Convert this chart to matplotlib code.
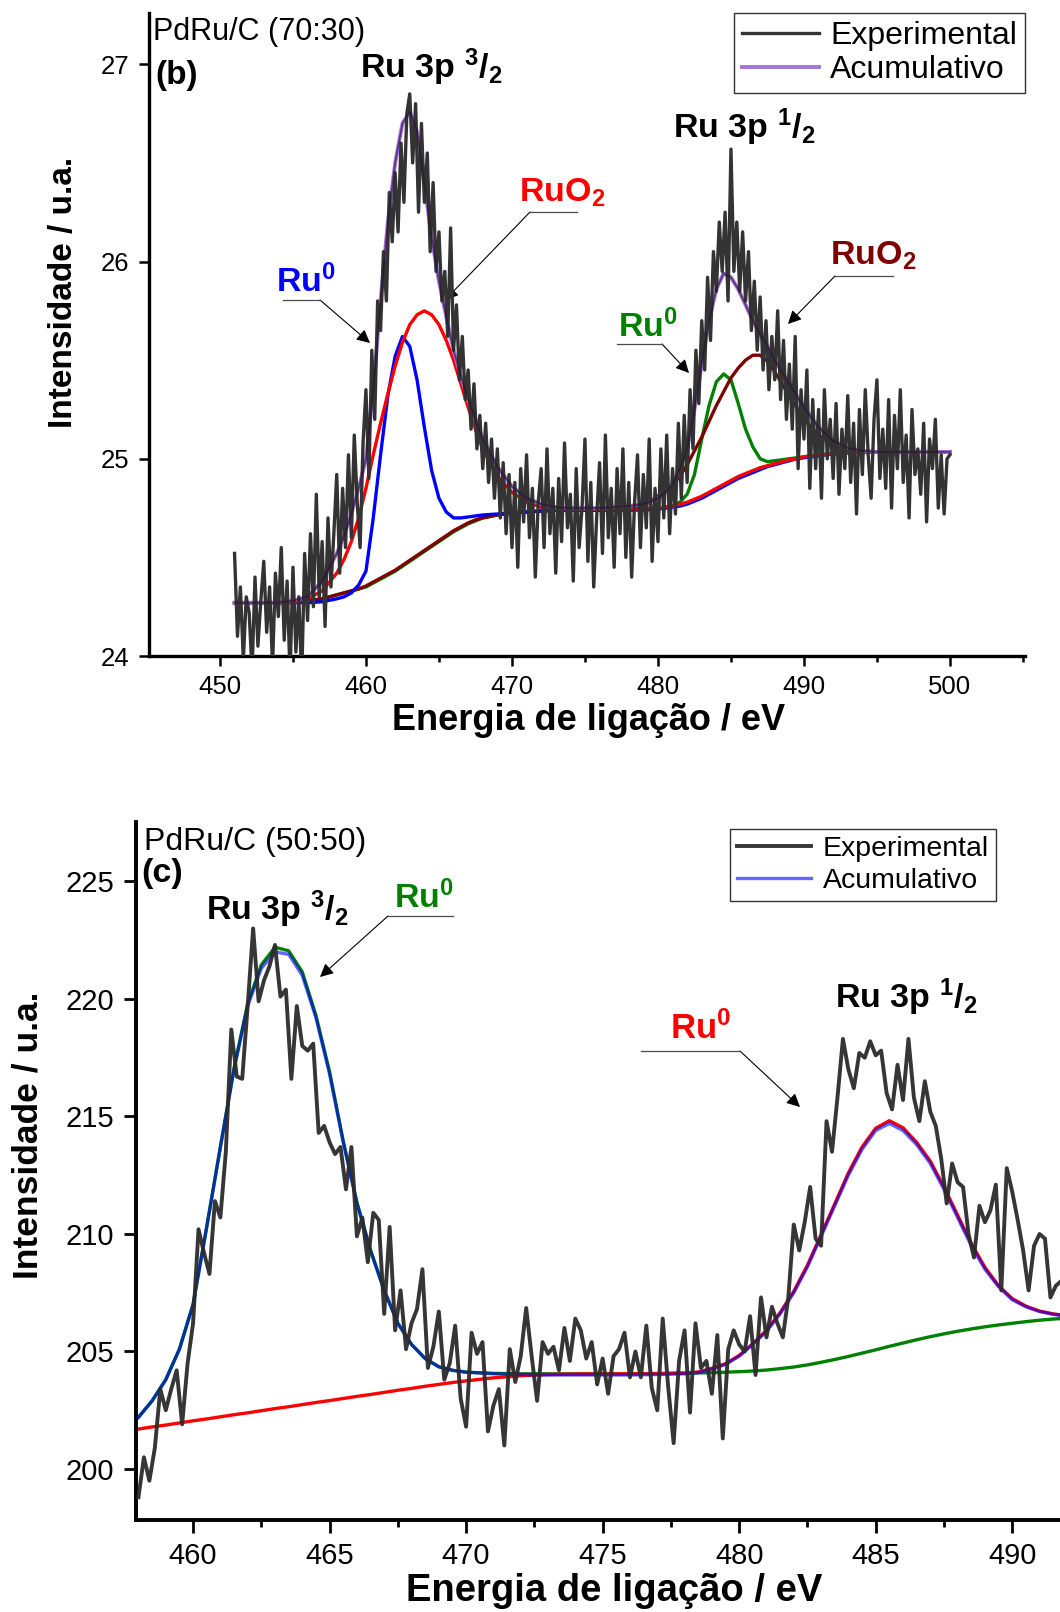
import numpy as np
import matplotlib
matplotlib.use("Agg")
import matplotlib.pyplot as plt
from matplotlib.ticker import MultipleLocator

plt.rcParams['font.family'] = ['Liberation Sans', 'DejaVu Sans']
plt.rcParams['mathtext.fontset'] = 'custom'
plt.rcParams['mathtext.rm'] = 'Liberation Sans:bold'
plt.rcParams['mathtext.it'] = 'Liberation Sans:bold'
plt.rcParams['mathtext.bf'] = 'Liberation Sans:bold'
plt.rcParams['mathtext.default'] = 'rm'

# ---------------- panel (b) PdRu/C 70:30 ----------------
exp_b_start, exp_b_step = 451.0, 0.2
exp_b = [
    24.52, 24.10, 24.35, 23.98, 24.30,  # 451
    24.22, 23.92, 24.40, 24.05, 24.28,
    24.48, 24.12, 24.35, 23.95, 24.42,
    24.20, 24.55, 24.08, 24.38, 23.90,
    24.45, 24.02, 24.30, 23.88, 24.52,  # 455
    24.18, 24.62, 24.25, 24.82, 24.30,
    24.58, 24.15, 24.70, 24.35, 24.62,
    24.92, 24.42, 24.85, 24.55, 25.02,
    24.60, 25.12, 24.78, 24.55, 25.08,
    25.35, 24.90, 25.55, 25.20, 25.80,  # 460
    25.65, 26.05, 25.80, 26.35, 26.10,
    26.45, 26.15, 26.60, 26.30, 26.75,
    26.85, 26.50, 26.80, 26.25, 26.70,
    26.30, 26.55, 26.05, 26.40, 25.95,
    26.15, 25.80, 25.95, 25.62, 26.17,  # 465
    25.55, 25.78, 25.40, 25.62, 25.30,
    25.45, 25.15, 25.38, 25.05, 25.22,
    24.95, 25.18, 24.88, 25.10, 24.80,
    25.05, 24.70, 24.98, 24.62, 24.92,
    24.55, 24.88, 24.45, 24.95, 24.68,  # 470
    25.02, 24.60, 24.85, 24.40, 24.78,
    24.95, 24.55, 25.05, 24.62, 24.85,
    24.42, 24.90, 24.58, 25.08, 24.65,
    24.82, 24.38, 24.95, 24.55, 24.75,
    25.10, 24.48, 24.88, 24.35, 24.70,  # 475
    24.98, 24.52, 25.12, 24.60, 24.85,
    24.45, 24.95, 24.62, 25.05, 24.50,
    24.88, 24.40, 24.78, 25.02, 24.55,
    24.92, 24.65, 25.10, 24.48, 24.85,
    24.58, 25.05, 24.70, 25.12, 24.62,  # 480
    24.95, 24.72, 25.18, 24.80, 25.22,
    24.88, 25.35, 25.05, 25.55, 25.28,
    25.70, 25.45, 25.92, 25.60, 26.05,
    25.85, 26.20, 25.95, 26.25, 25.80,
    26.57, 25.95, 26.20, 25.85, 26.15,  # 485
    25.80, 26.05, 25.65, 25.90, 25.55,
    25.82, 25.45, 25.70, 25.35, 25.62,
    25.40, 25.75, 25.30, 25.60, 25.20,
    25.48, 25.15, 25.62, 24.95, 25.35,
    25.10, 25.45, 24.85, 25.30, 24.95,  # 490
    25.25, 24.80, 25.35, 25.00, 25.20,
    24.90, 25.28, 24.82, 25.15, 24.95,
    25.32, 24.88, 25.18, 24.72, 25.25,
    24.92, 25.35, 25.02, 24.80, 25.20,
    25.40, 24.90, 25.15, 24.85, 25.30,  # 495
    24.75, 25.22, 24.95, 25.35, 24.88,
    25.12, 24.70, 25.25, 24.92, 25.05,
    24.82, 25.18, 24.68, 25.10, 24.95,
    25.20, 24.75, 25.02, 24.72, 25.00,
    25.02,  # 500
]

fit_x_b = [451, 452, 453, 454, 455, 456, 457, 458,
           458.5, 459, 459.5, 460, 460.5, 461, 461.5, 462, 462.5, 463,
           463.5, 464, 464.5, 465, 465.5, 466, 466.5, 467, 467.5, 468,
           469, 470, 471, 472, 473, 474, 475, 476, 477, 478, 479, 480,
           480.5, 481, 481.5, 482, 482.5, 483, 483.5, 484, 484.5, 485,
           485.5, 486, 486.5, 487, 487.5, 488, 488.5, 489, 489.5, 490,
           491, 492, 493, 494, 495, 496, 497, 498, 499, 500]

ru0_32_b = [24.27, 24.27, 24.27, 24.27, 24.27, 24.27, 24.275, 24.29,
            24.30, 24.32, 24.36, 24.43, 24.70, 25.02, 25.32, 25.52, 25.62, 25.57,
            25.40, 25.16, 24.94, 24.80, 24.73, 24.70, 24.70, 24.705, 24.71, 24.715,
            24.72, 24.725, 24.73, 24.735, 24.74, 24.74, 24.74, 24.74, 24.74, 24.74, 24.74, 24.745,
            24.75, 24.755, 24.76, 24.77, 24.785, 24.80, 24.82, 24.84, 24.86, 24.88,
            24.90, 24.915, 24.93, 24.945, 24.96, 24.97, 24.98, 24.99, 25.0, 25.005,
            25.015, 25.025, 25.03, 25.035, 25.035, 25.035, 25.035, 25.035, 25.035, 25.035]

ruo2_32_b = [24.27, 24.27, 24.27, 24.27, 24.27, 24.29, 24.33, 24.42,
             24.49, 24.58, 24.70, 24.85, 25.02, 25.18, 25.33, 25.47, 25.59, 25.68,
             25.73, 25.75, 25.73, 25.68, 25.60, 25.50, 25.38, 25.26, 25.15, 25.05,
             24.91, 24.83, 24.78, 24.755, 24.745, 24.745, 24.745, 24.745, 24.745, 24.745, 24.745, 24.75,
             24.755, 24.76, 24.77, 24.78, 24.795, 24.81, 24.83, 24.85, 24.87, 24.89,
             24.91, 24.925, 24.94, 24.955, 24.965, 24.975, 24.985, 24.995, 25.0, 25.01,
             25.02, 25.025, 25.03, 25.035, 25.035, 25.035, 25.035, 25.035, 25.035, 25.035]

ru0_12_b = [24.27, 24.27, 24.27, 24.27, 24.275, 24.28, 24.29, 24.31,
            24.32, 24.33, 24.34, 24.35, 24.37, 24.39, 24.41, 24.43, 24.455, 24.48,
            24.505, 24.53, 24.555, 24.58, 24.605, 24.63, 24.65, 24.67, 24.685, 24.70,
            24.715, 24.725, 24.73, 24.735, 24.74, 24.74, 24.74, 24.74, 24.74, 24.74, 24.745, 24.75,
            24.75, 24.76, 24.78, 24.82, 24.92, 25.10, 25.27, 25.39, 25.43, 25.40,
            25.28, 25.15, 25.06, 25.0, 24.985, 24.99, 24.995, 25.0, 25.005, 25.01,
            25.02, 25.025, 25.03, 25.035, 25.035, 25.035, 25.035, 25.035, 25.035, 25.035]

ruo2_12_b = [24.27, 24.27, 24.27, 24.27, 24.275, 24.28, 24.29, 24.31,
             24.32, 24.33, 24.34, 24.355, 24.375, 24.395, 24.415, 24.435, 24.46, 24.485,
             24.51, 24.535, 24.56, 24.585, 24.61, 24.635, 24.655, 24.675, 24.69, 24.70,
             24.715, 24.725, 24.73, 24.735, 24.74, 24.74, 24.74, 24.74, 24.745, 24.75, 24.765, 24.81,
             24.84, 24.87, 24.91, 24.97, 25.04, 25.11, 25.19, 25.27, 25.34, 25.41,
             25.46, 25.50, 25.525, 25.525, 25.495, 25.44, 25.38, 25.32, 25.26, 25.20,
             25.12, 25.07, 25.045, 25.037, 25.035, 25.035, 25.035, 25.035, 25.035, 25.035]

cumul_b = [24.27, 24.27, 24.27, 24.27, 24.28, 24.30, 24.38, 24.52,
           24.61, 24.72, 24.85, 25.0, 25.35, 25.8, 26.2, 26.5, 26.7, 26.76,
           26.66, 26.4, 26.12, 25.9, 25.72, 25.55, 25.42, 25.3, 25.2, 25.1,
           24.96, 24.86, 24.8, 24.77, 24.755, 24.75, 24.75, 24.75, 24.755, 24.76, 24.77, 24.8,
           24.83, 24.87, 24.95, 25.05, 25.25, 25.48, 25.7, 25.86, 25.94, 25.92,
           25.86, 25.78, 25.7, 25.63, 25.57, 25.5, 25.44, 25.38, 25.32, 25.26,
           25.16, 25.09, 25.055, 25.04, 25.035, 25.035, 25.035, 25.035, 25.035, 25.035]

# ---------------- panel (c) PdRu/C 50:50 ----------------
exp_c_start, exp_c_step = 458.0, 0.2
exp_c = [
    198.8, 200.5, 199.5, 200.9, 203.4,  # 458
    202.5, 203.4, 204.2, 201.9, 204.5,
    206.2, 210.2, 209.2, 208.3, 211.4,  # 460
    210.7, 213.5, 218.7, 216.7, 216.6,
    219.7, 223.0, 219.9, 220.8, 221.4,
    222.3, 220.1, 220.4, 216.6, 219.7,
    218.0, 217.8, 218.1, 214.3, 214.6,
    213.9, 213.4, 213.7, 211.9, 213.7,  # 465
    209.9, 210.7, 208.8, 210.9, 210.6,
    206.6, 210.3, 205.9, 207.6, 205.1,
    206.2, 206.8, 208.5, 204.3, 205.2,
    206.7, 203.8, 204.5, 206.1, 203.0,
    201.8, 205.8, 204.9, 205.4, 201.6,  # 470
    202.7, 203.4, 201.0, 205.1, 203.7,
    204.8, 206.85, 204.8, 202.9, 205.4,
    204.9, 205.2, 204.2, 206.0, 204.6,
    206.4, 205.9, 204.7, 205.4, 203.6,
    204.7, 203.2, 204.8, 205.1, 205.8,  # 475
    203.9, 205.0, 203.9, 206.1, 203.45,
    202.5, 206.4, 203.5, 201.1, 204.6,
    205.9, 202.4, 206.2, 204.3, 204.6,
    203.2, 205.7, 201.3, 205.1, 205.9,
    205.3, 205.0, 206.5, 204.0, 207.3,  # 480
    205.6, 206.9, 206.2, 205.6, 207.3,
    210.4, 209.3, 210.5, 212.0, 209.8,
    209.5, 214.8, 213.5, 215.8, 218.3,
    217.0, 216.2, 217.7, 217.5, 218.2,
    217.6, 217.8, 216.0, 215.3, 217.2,  # 485
    215.7, 218.3, 215.8, 214.8, 216.5,
    215.2, 214.6, 213.2, 211.3, 213.0,
    212.2, 212.0, 210.0, 209.0, 211.2,
    210.5, 211.0, 212.1, 207.6, 212.8,
    211.8, 210.6, 209.3, 207.6, 209.5,  # 490
    210.0, 209.8, 207.3, 207.8, 208.0,
    208.2,
]

fit_x_c = [458, 458.5, 459, 459.5, 460, 460.5, 461, 461.5, 462, 462.5,
           463, 463.5, 464, 464.5, 465, 465.5, 466, 466.5, 467, 467.5,
           468, 468.5, 469, 469.5, 470,
           471, 472, 473, 474, 475, 476, 477,
           477.5, 478, 478.5, 479, 479.5, 480, 480.5, 481, 481.5, 482,
           482.5, 483, 483.5, 484, 484.5, 485, 485.5, 486, 486.5, 487,
           487.5, 488, 488.5, 489, 489.5, 490, 490.5, 491, 491.5, 492]

cumul_c = [202.2, 202.9, 203.8, 205.1, 207.0, 210.3, 213.7, 217.0, 219.7, 221.3,
           222.0, 221.9, 221.0, 219.2, 216.8, 213.9, 211.3, 209.3, 207.6, 206.2,
           205.3, 204.7, 204.35, 204.2, 204.12,
           204.05, 204.02, 204.0, 204.0, 204.0, 204.0, 204.02,
           204.03, 204.05, 204.1, 204.25, 204.45, 204.8, 205.3, 205.85, 206.6, 207.5,
           208.6, 209.9, 211.2, 212.5, 213.6, 214.4, 214.7, 214.4, 213.8, 213.0,
           211.9, 210.7, 209.5, 208.5, 207.75, 207.2, 206.9, 206.7, 206.58, 206.5]

ru0_12_c = [201.70, 201.79, 201.87, 201.96, 202.05, 202.13, 202.22, 202.31, 202.39, 202.48,
            202.57, 202.65, 202.74, 202.83, 202.91, 203.0, 203.09, 203.17, 203.26, 203.35,
            203.43, 203.52, 203.6, 203.68, 203.75,
            203.88, 203.97, 204.02, 204.04, 204.05, 204.05, 204.06,
            204.07, 204.08, 204.13, 204.28, 204.48, 204.83, 205.33, 205.9, 206.65, 207.56,
            208.67, 209.97, 211.28, 212.6, 213.7, 214.5, 214.82, 214.52, 213.9, 213.1,
            212.0, 210.8, 209.6, 208.58, 207.8, 207.25, 206.93, 206.72, 206.6, 206.52]

ru0_32_c = [202.2, 202.9, 203.8, 205.1, 207.0, 210.3, 213.7, 217.05, 219.8, 221.45,
            222.2, 222.05, 221.15, 219.3, 216.9, 213.95, 211.35, 209.3, 207.6, 206.2,
            205.3, 204.7, 204.35, 204.2, 204.12,
            204.07, 204.05, 204.05, 204.05, 204.05, 204.05, 204.06,
            204.07, 204.08, 204.09, 204.1, 204.12, 204.14, 204.17, 204.21, 204.27, 204.34,
            204.43, 204.54, 204.66, 204.79, 204.93, 205.07, 205.22, 205.36, 205.5, 205.63,
            205.75, 205.86, 205.96, 206.05, 206.13, 206.2, 206.27, 206.33, 206.38, 206.42]

W, H = 1060, 1612


def px(x, y):
    return x / W, 1 - y / H


def style_axes(ax, spine_w, tick_w, maj_len, min_len, lsize, pad):
    for s in ['top', 'right']:
        ax.spines[s].set_visible(False)
    for s in ['left', 'bottom']:
        ax.spines[s].set_linewidth(spine_w)
    ax.tick_params(which='major', direction='out', length=maj_len, width=tick_w,
                   labelsize=lsize, pad=pad)
    ax.tick_params(which='minor', direction='out', length=min_len, width=tick_w)
    ax.tick_params(axis='y', which='minor', left=False)


def callout(fig, x1, x2, y, tip, start):
    # underline below the label, then a thin arrow to the curve
    fig.add_artist(plt.Line2D([x1 / W, x2 / W], [1 - y / H, 1 - y / H],
                              color='#4a4a4a', lw=0.9))
    plt.annotate('', xy=px(*tip), xycoords='figure fraction',
                 xytext=px(*start), textcoords='figure fraction',
                 arrowprops=dict(arrowstyle='-|>', color='black', lw=0.8,
                                 mutation_scale=20, shrinkA=0, shrinkB=0))


fig = plt.figure(figsize=(10.6, 16.12), dpi=100)

# ================= panel b =================
axb = fig.add_axes([149 / W, 1 - 656 / H, 876 / W, 643 / H])
xb = exp_b_start + exp_b_step * np.arange(len(exp_b))

axb.plot(fit_x_b, ru0_12_b, color='#008000', lw=2.4, zorder=2)
axb.plot(fit_x_b, ruo2_12_b, color='#800000', lw=2.4, zorder=2.2)
axb.plot(fit_x_b, ruo2_32_b, color='#ff0000', lw=2.4, zorder=2.4)
axb.plot(fit_x_b, ru0_32_b, color='#0000ff', lw=2.4, zorder=2.3)
l_cum_b, = axb.plot(fit_x_b, cumul_b, color='#a474dc', lw=2.8, zorder=3,
                    label='Acumulativo')
l_exp_b, = axb.plot(xb, exp_b, color='#333333', lw=2.4, zorder=5,
                    solid_joinstyle='round', label='Experimental')
axb.plot(fit_x_b, cumul_b, color='#2a0f33', lw=1.3, alpha=0.6, zorder=6)

axb.set_xlim(445.14, 505.14)
axb.set_ylim(24, 27.26)
axb.set_xticks([450, 460, 470, 480, 490, 500])
axb.xaxis.set_minor_locator(MultipleLocator(5))
axb.set_yticks([24, 25, 26, 27])
style_axes(axb, 2.4, 1.8, 7, 4.5, 18.5, 7)

axb.legend(handles=[l_exp_b, l_cum_b], loc='upper right', bbox_to_anchor=(1.0, 1.0),
           borderaxespad=0, fontsize=23, frameon=True, fancybox=False,
           edgecolor='#333333', framealpha=1, handlelength=2.4, handletextpad=0.35,
           borderpad=0.25, labelspacing=0.12)
axb.get_legend().get_frame().set_linewidth(1.0)

fig.text(*px(153, 40), 'PdRu/C (70:30)', fontsize=22, va='baseline')
fig.text(*px(155, 84), '(b)', fontsize=24, fontweight='bold', va='baseline')
fig.text(*px(360, 78), 'Ru 3p $^{3}$/$_{2}$', fontsize=24.5, fontweight='bold', va='baseline')
fig.text(*px(673, 138), 'Ru 3p $^{1}$/$_{2}$', fontsize=24.5, fontweight='bold', va='baseline')
fig.text(*px(276, 292), 'Ru$^{0}$', fontsize=24.5, fontweight='bold', color='#0000ff', va='baseline')
fig.text(*px(519, 202), 'RuO$_{2}$', fontsize=24.5, fontweight='bold', color='#ff0000', va='baseline')
fig.text(*px(618, 337), 'Ru$^{0}$', fontsize=24.5, fontweight='bold', color='#008000', va='baseline')
fig.text(*px(830, 265), 'RuO$_{2}$', fontsize=24.5, fontweight='bold', color='#800000', va='baseline')

callout(fig, 283, 320, 300, (370, 343), (320, 300))
callout(fig, 530, 577, 212, (445, 300), (530, 212))
callout(fig, 617, 662, 344, (689, 373), (662, 344))
callout(fig, 835, 893, 276, (788, 324), (835, 276))

fig.text(*px(589, 720), 'Energia de ligação / eV', fontsize=26, fontweight='bold',
         ha='center', va='center')
fig.text(*px(64, 292), 'Intensidade / u.a.', fontsize=24, fontweight='bold',
         ha='center', va='center', rotation=90)

# ================= panel c =================
axc = fig.add_axes([136 / W, 1 - 1520 / H, 924 / W, 698 / H])
xc = exp_c_start + exp_c_step * np.arange(len(exp_c))

axc.plot(fit_x_c, ru0_32_c, color='#008000', lw=2.4, zorder=2)
axc.plot(fit_x_c, ru0_12_c, color='#ff0000', lw=2.4, zorder=2.2)
l_cum_c, = axc.plot(fit_x_c, cumul_c, color='#0000ff', alpha=0.6, lw=2.4, zorder=3,
                    label='Acumulativo')
l_exp_c, = axc.plot(xc, exp_c, color='#2b2b2b', lw=2.8, alpha=0.95, zorder=5,
                    solid_joinstyle='round', label='Experimental')

axc.set_xlim(457.91, 491.75)
axc.set_ylim(197.83, 227.53)
axc.set_xticks([460, 465, 470, 475, 480, 485, 490])
axc.xaxis.set_minor_locator(MultipleLocator(2.5))
axc.set_yticks([200, 205, 210, 215, 220, 225])
style_axes(axc, 2.8, 2.0, 9, 5, 21, 7)

axc.legend(handles=[l_exp_c, l_cum_c], loc='upper right',
           bbox_to_anchor=((996 - 136) / 924, (1520 - 829) / 698),
           borderaxespad=0, fontsize=20.5, frameon=True, fancybox=False,
           edgecolor='#333333', framealpha=1, handlelength=2.6, handletextpad=0.4,
           borderpad=0.25, labelspacing=0.2)
axc.get_legend().get_frame().set_linewidth(1.0)

fig.text(*px(144, 850), 'PdRu/C (50:50)', fontsize=23, va='baseline')
fig.text(*px(141, 882), '(c)', fontsize=24.5, fontweight='bold', va='baseline')
fig.text(*px(206, 920), 'Ru 3p $^{3}$/$_{2}$', fontsize=24.5, fontweight='bold', va='baseline')
fig.text(*px(394, 908), 'Ru$^{0}$', fontsize=24.5, fontweight='bold', color='#008000', va='baseline')
fig.text(*px(835, 1008), 'Ru 3p $^{1}$/$_{2}$', fontsize=24.5, fontweight='bold', va='baseline')
fig.text(*px(670, 1039), 'Ru$^{0}$', fontsize=25, fontweight='bold', color='#ff0000', va='baseline')

callout(fig, 388, 453, 916, (320, 977), (388, 916))
callout(fig, 641, 740, 1051, (800, 1107), (740, 1051))

fig.text(*px(614, 1591), 'Energia de ligação / eV', fontsize=27.5, fontweight='bold',
         ha='center', va='center')
fig.text(*px(28, 1135), 'Intensidade / u.a.', fontsize=25.5, fontweight='bold',
         ha='center', va='center', rotation=90)

fig.savefig('out.png', dpi=100)
